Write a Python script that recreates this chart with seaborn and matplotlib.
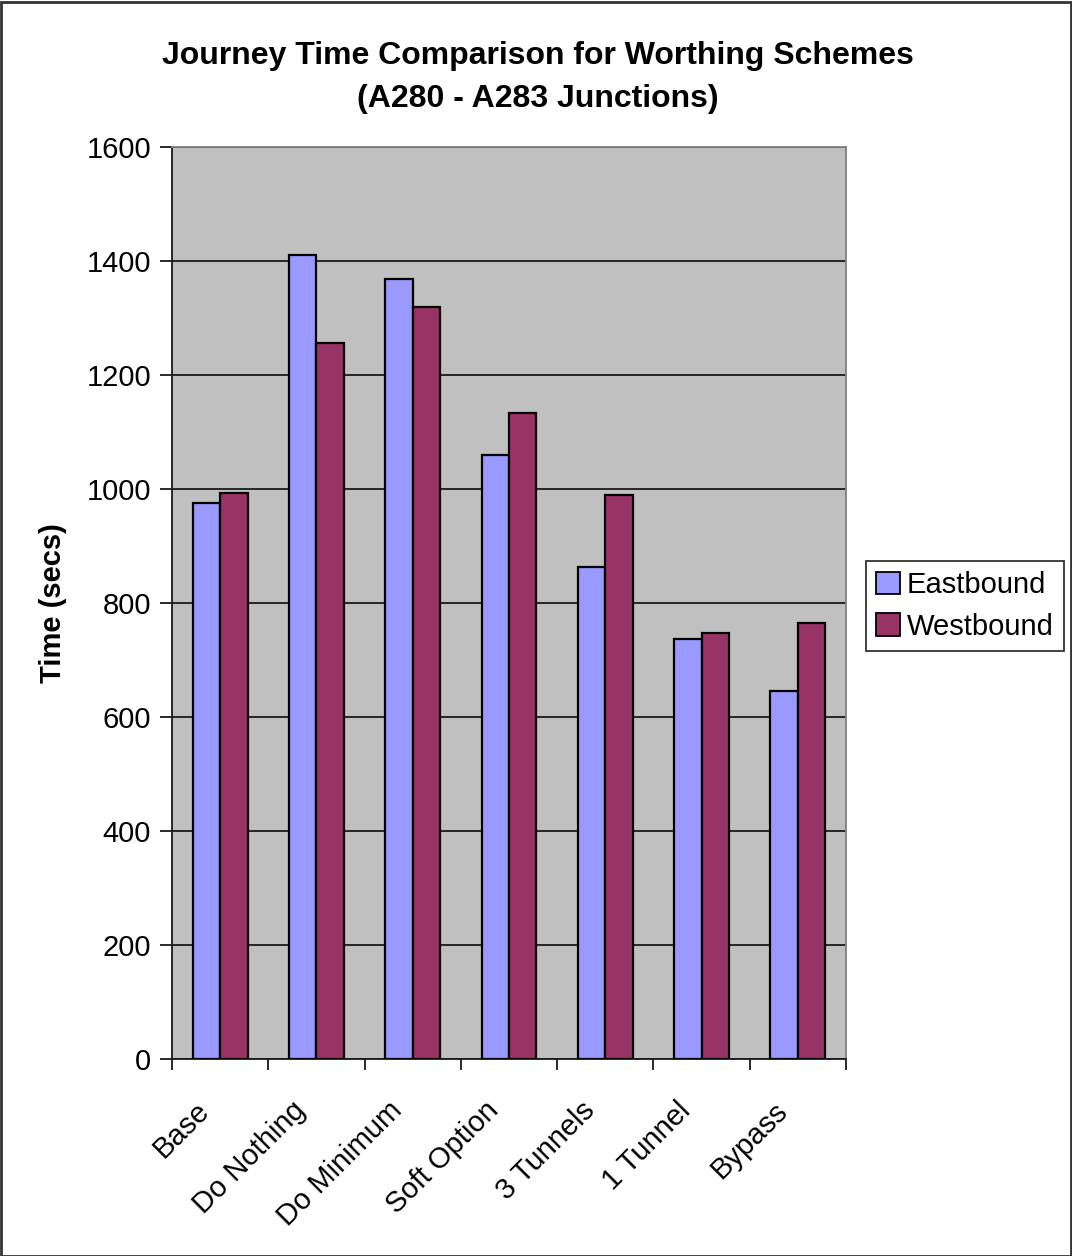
import matplotlib
matplotlib.use("Agg")
import matplotlib.pyplot as plt
import matplotlib.patches as mpatches
import matplotlib.transforms as mtransforms
import seaborn as sns
import pandas as pd
import numpy as np

categories = ["Base", "Do Nothing", "Do Minimum", "Soft Option", "3 Tunnels", "1 Tunnel", "Bypass"]
eastbound = [975, 1410, 1368, 1060, 864, 737, 646]
westbound = [993, 1256, 1319, 1133, 989, 747, 765]
series_names = ["Eastbound", "Westbound"]
y_ticks = [0, 200, 400, 600, 800, 1000, 1200, 1400, 1600]

df = pd.DataFrame({
    "Scheme": categories * 2,
    "Direction": [series_names[0]] * len(categories) + [series_names[1]] * len(categories),
    "Time": eastbound + westbound,
})

sns.set_theme(style="white")
plt.rcParams["font.family"] = ["Liberation Sans", "DejaVu Sans"]
plt.rcParams.update({"text.color": "black", "axes.labelcolor": "black",
                     "xtick.color": "black", "ytick.color": "black"})

W, H = 1072, 1256
fig = plt.figure(figsize=(W / 100, H / 100), dpi=100)
fig.patch.set_facecolor("white")
ax = fig.add_axes([172 / W, 1 - 1059 / H, (846 - 172) / W, (1059 - 147) / H])
ax.set_facecolor("#C0C0C0")

palette = {"Eastbound": "#9999FF", "Westbound": "#993366"}
sns.barplot(data=df, x="Scheme", y="Time", hue="Direction", order=categories,
            hue_order=series_names, palette=palette, width=0.57, dodge=True,
            saturation=1, edgecolor="black", linewidth=1.6, ax=ax, legend=False,
            errorbar=None, zorder=3)

ax.set_ylim(0, 1600)
ax.set_xlim(-0.5, len(categories) - 0.5)
ax.set_yticks(y_ticks)
ax.yaxis.grid(True, color="#1a1a1a", linewidth=1.3, zorder=1)
ax.set_axisbelow(True)
ax.xaxis.grid(False)

for side in ["top", "right"]:
    ax.spines[side].set_color("#808080")
    ax.spines[side].set_linewidth(1.3)
for side in ["left", "bottom"]:
    ax.spines[side].set_color("#1a1a1a")
    ax.spines[side].set_linewidth(1.3)

# category labels at centres, tick marks on the category boundaries
ax.set_xticks(range(len(categories)))
ax.set_xticklabels(categories, rotation=45, ha="right", va="top",
                   rotation_mode="anchor", fontsize=21)
ax.tick_params(axis="x", which="major", length=0, pad=14)
shift = mtransforms.ScaledTranslation(-25 / 100, -18 / 100, fig.dpi_scale_trans)
for lbl in ax.get_xticklabels():
    lbl.set_transform(lbl.get_transform() + shift)
ax.set_xticks(np.arange(-0.5, len(categories), 1.0), minor=True)
ax.tick_params(axis="x", which="minor", length=8, width=1.3, color="#1a1a1a",
               direction="out", bottom=True)
ax.tick_params(axis="y", length=9, width=1.3, color="#1a1a1a", direction="out",
               left=True, labelsize=21, pad=6)

ax.set_xlabel("")
ax.set_ylabel("Time (secs)", fontsize=21, fontweight="bold", labelpad=14)

fig.text(0.5 + 0.002, 1 - 56 / H, "Journey Time Comparison for Worthing Schemes",
         ha="center", va="center", fontsize=23, fontweight="bold")
fig.text(0.5 + 0.002, 1 - 99 / H, "(A280 - A283 Junctions)",
         ha="center", va="center", fontsize=23, fontweight="bold")

handles = [mpatches.Patch(facecolor=palette[n], edgecolor="black", linewidth=1.3, label=n)
           for n in series_names]
leg = fig.legend(handles=handles, loc="center left",
                 bbox_to_anchor=(866 / W, 1 - 606 / H), fontsize=21, frameon=True,
                 fancybox=False, handlelength=0.8, handleheight=0.8, handletextpad=0.25,
                 borderpad=0.35, labelspacing=0.45, borderaxespad=0)
leg.get_frame().set_edgecolor("black")
leg.get_frame().set_linewidth(1.3)

fig.patches.append(mpatches.Rectangle((0.5 / W, 0.5 / H), 1 - 2 / W, 1 - 2 / H,
                                      transform=fig.transFigure, fill=False,
                                      edgecolor="#333333", linewidth=2))

fig.savefig("out.png", dpi=100, facecolor="white")
